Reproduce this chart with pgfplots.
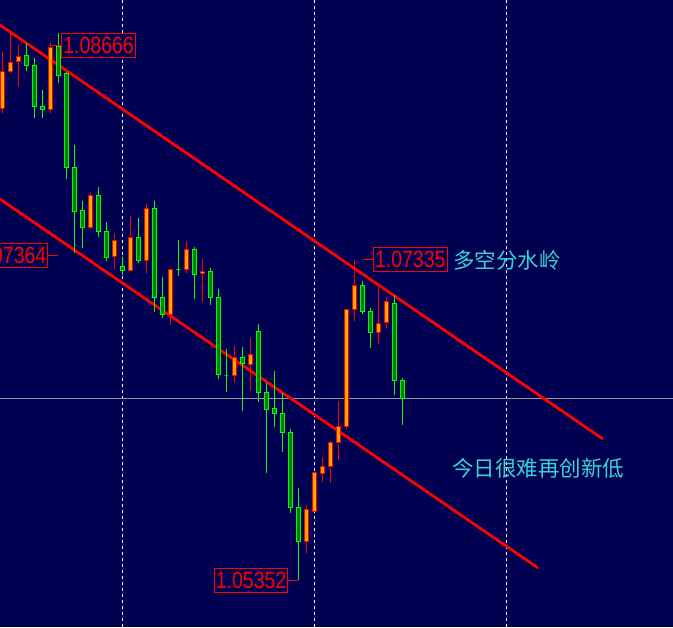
\documentclass[border=0pt]{standalone}
\usepackage{fontspec}
\setmainfont{Liberation Sans}
\newfontfamily\labelfont[FakeStretch=0.83]{Liberation Sans}
\newfontfamily\cjk{Noto Sans CJK SC}
\usepackage{pgfplots}
\pgfplotsset{compat=1.18}

\definecolor{bg}{HTML}{000052}
\definecolor{bullfill}{HTML}{FFA500}
\definecolor{bearline}{HTML}{00FF00}
\definecolor{bearfill}{HTML}{008000}
\definecolor{bidline}{HTML}{9A9A9A}
\definecolor{note}{HTML}{36D4D0}

% picture drawn at half size (1 px = 0.5pt), the page is scaled up anyway
\pgfplotsset{
  bullwick/.style={draw=red, line width=0.5pt, mark=none},
  bullbody/.style={draw=red, fill=bullfill, line width=0.5pt, mark=none},
  bearwick/.style={draw=bearline, line width=0.5pt, mark=none},
  bearbody/.style={draw=bearline, fill=bearfill, line width=0.5pt, mark=none},
}
\tikzset{
  pricelabel/.style={draw=red, line width=0.5pt, fill=bg, text=red,
    font=\labelfont\fontsize{11.75}{11.75}\selectfont,
    inner xsep=0.75pt, inner ysep=0pt, minimum height=12pt},
}
% candle: kind (bull/bear), x, open, close, high, low
\newcommand\candle[6]{%
  \pgfmathsetmacro\xl{#2-0.25}\pgfmathsetmacro\xr{#2+0.25}%
  \edef\tmp{%
    \noexpand\addplot[#1wick] coordinates {(#2,#5) (#2,#6)};
    \noexpand\addplot[#1body] coordinates {(\xl,#3) (\xr,#3) (\xr,#4) (\xl,#4)} -- cycle;
  }\tmp}

\begin{document}
\begin{tikzpicture}
\begin{axis}[
  at={(0,0)}, anchor=south west,
  width=336.5pt, height=313.5pt, scale only axis,
  xmin=-0.2875, xmax=83.8375,
  ymin=1.05061, ymax=1.08945,
  axis background/.style={fill=bg},
  axis line style={draw=none},
  xtick={15,39,63}, xticklabels={}, ytick=\empty,
  major tick length=0pt,
  xmajorgrids,
  grid style={white, line width=0.5pt, dash pattern=on 1.5pt off 1.5pt},
]

% current price line
\addplot[bidline, line width=0.5pt] coordinates {(-1,1.06478) (90,1.06478)};

% channel
\addplot[red, line width=1.4pt] coordinates {(-0.2875,1.08790) (75.05,1.06226)};
\addplot[red, line width=1.4pt] coordinates {(-0.2875,1.07712) (66.96,1.05427)};

\candle{bull}{0}{1.08274}{1.08501}{1.08625}{1.08247}
\candle{bull}{1}{1.08501}{1.08559}{1.08753}{1.08493}
\candle{bull}{2}{1.08565}{1.08596}{1.08666}{1.08408}
\candle{bear}{3}{1.08603}{1.08541}{1.08677}{1.08507}
\candle{bear}{4}{1.08541}{1.08287}{1.08584}{1.08216}
\candle{bear}{5}{1.08287}{1.08268}{1.08388}{1.08216}
\candle{bull}{6}{1.08268}{1.08652}{1.08679}{1.08247}
\candle{bear}{7}{1.08660}{1.08479}{1.08739}{1.08429}
\candle{bear}{8}{1.08487}{1.07909}{1.08501}{1.07838}
\candle{bear}{9}{1.07909}{1.07634}{1.08045}{1.07376}
\candle{bear}{10}{1.07638}{1.07535}{1.07700}{1.07411}
\candle{bull}{11}{1.07535}{1.07731}{1.07748}{1.07526}
\candle{bear}{12}{1.07731}{1.07510}{1.07789}{1.07479}
\candle{bear}{13}{1.07514}{1.07349}{1.07572}{1.07328}
\candle{bull}{14}{1.07355}{1.07458}{1.07500}{1.07277}
\candle{bear}{15}{1.07297}{1.07268}{1.07355}{1.07242}
\candle{bull}{16}{1.07268}{1.07475}{1.07607}{1.07268}
\candle{bear}{17}{1.07475}{1.07330}{1.07596}{1.07314}
\candle{bull}{18}{1.07330}{1.07655}{1.07681}{1.07256}
\candle{bear}{19}{1.07655}{1.07101}{1.07700}{1.07014}
\candle{bear}{20}{1.07103}{1.06998}{1.07227}{1.06973}
\candle{bull}{21}{1.06998}{1.07273}{1.07273}{1.06932}
\candle{bear}{22}{1.07277}{1.07277}{1.07458}{1.07235}
\candle{bull}{23}{1.07277}{1.07401}{1.07452}{1.07256}
\candle{bear}{24}{1.07401}{1.07246}{1.07417}{1.07095}
\candle{bull}{25}{1.07252}{1.07266}{1.07341}{1.07076}
\candle{bear}{26}{1.07266}{1.07101}{1.07283}{1.07056}
\candle{bear}{27}{1.07103}{1.06627}{1.07155}{1.06596}
\candle{bear}{28}{1.06622}{1.06622}{1.06783}{1.06518}
\candle{bull}{29}{1.06622}{1.06729}{1.06802}{1.06574}
\candle{bear}{30}{1.06732}{1.06695}{1.06796}{1.06401}
\candle{bull}{31}{1.06689}{1.06752}{1.06853}{1.06525}
\candle{bear}{32}{1.06893}{1.06515}{1.06938}{1.06457}
\candle{bear}{33}{1.06515}{1.06410}{1.06571}{1.06013}
\candle{bear}{34}{1.06412}{1.06385}{1.06647}{1.06302}
\candle{bear}{35}{1.06385}{1.06267}{1.06509}{1.06147}
\candle{bear}{36}{1.06267}{1.05803}{1.06286}{1.05765}
\candle{bear}{37}{1.05803}{1.05591}{1.05922}{1.05352}
\candle{bull}{38}{1.05592}{1.05786}{1.05815}{1.05521}
\candle{bull}{39}{1.05778}{1.06019}{1.06019}{1.05778}
\candle{bull}{40}{1.06013}{1.06057}{1.06114}{1.05961}
\candle{bull}{41}{1.06057}{1.06207}{1.06213}{1.05955}
\candle{bull}{42}{1.06207}{1.06304}{1.06462}{1.06096}
\candle{bull}{43}{1.06303}{1.07029}{1.07029}{1.06286}
\candle{bull}{44}{1.07029}{1.07178}{1.07334}{1.06958}
\candle{bear}{45}{1.07178}{1.07014}{1.07204}{1.07000}
\candle{bear}{46}{1.07018}{1.06884}{1.07037}{1.06791}
\candle{bull}{47}{1.06887}{1.06942}{1.07169}{1.06814}
\candle{bull}{48}{1.06948}{1.07079}{1.07103}{1.06915}
\candle{bear}{49}{1.07066}{1.06587}{1.07118}{1.06498}
\candle{bear}{50}{1.06591}{1.06475}{1.06605}{1.06312}

% price labels
\draw[red, line width=0.5pt] (axis cs:6.0,1.08666) -- (axis cs:7.375,1.08666)
  node[pricelabel, anchor=west] {1.08666};
\draw[red, line width=0.5pt] (axis cs:45.09,1.07335) -- (axis cs:46.34,1.07335)
  node[pricelabel, anchor=west] {1.07335};
\draw[red, line width=0.5pt] (axis cs:37.0,1.05352) -- (axis cs:35.75,1.05352)
  node[pricelabel, anchor=east] {1.05352};
\draw[red, line width=0.5pt] (axis cs:7.0,1.07365) -- (axis cs:5.75,1.07365)
  node[pricelabel, anchor=east] {1.07364};

% notes
\node[anchor=west, text=note, inner sep=0pt, font=\cjk\fontsize{10.75}{10.75}\selectfont]
  at (axis cs:56.34,1.07334) {多空分水岭};
\node[anchor=west, text=note, inner sep=0pt, font=\cjk\fontsize{10.75}{10.75}\selectfont]
  at (axis cs:56.21,1.06046) {今日很难再创新低};
\end{axis}
\pgfresetboundingbox
\path[use as bounding box] (0,0) rectangle (336.5pt,313.5pt);
\end{tikzpicture}
\end{document}
